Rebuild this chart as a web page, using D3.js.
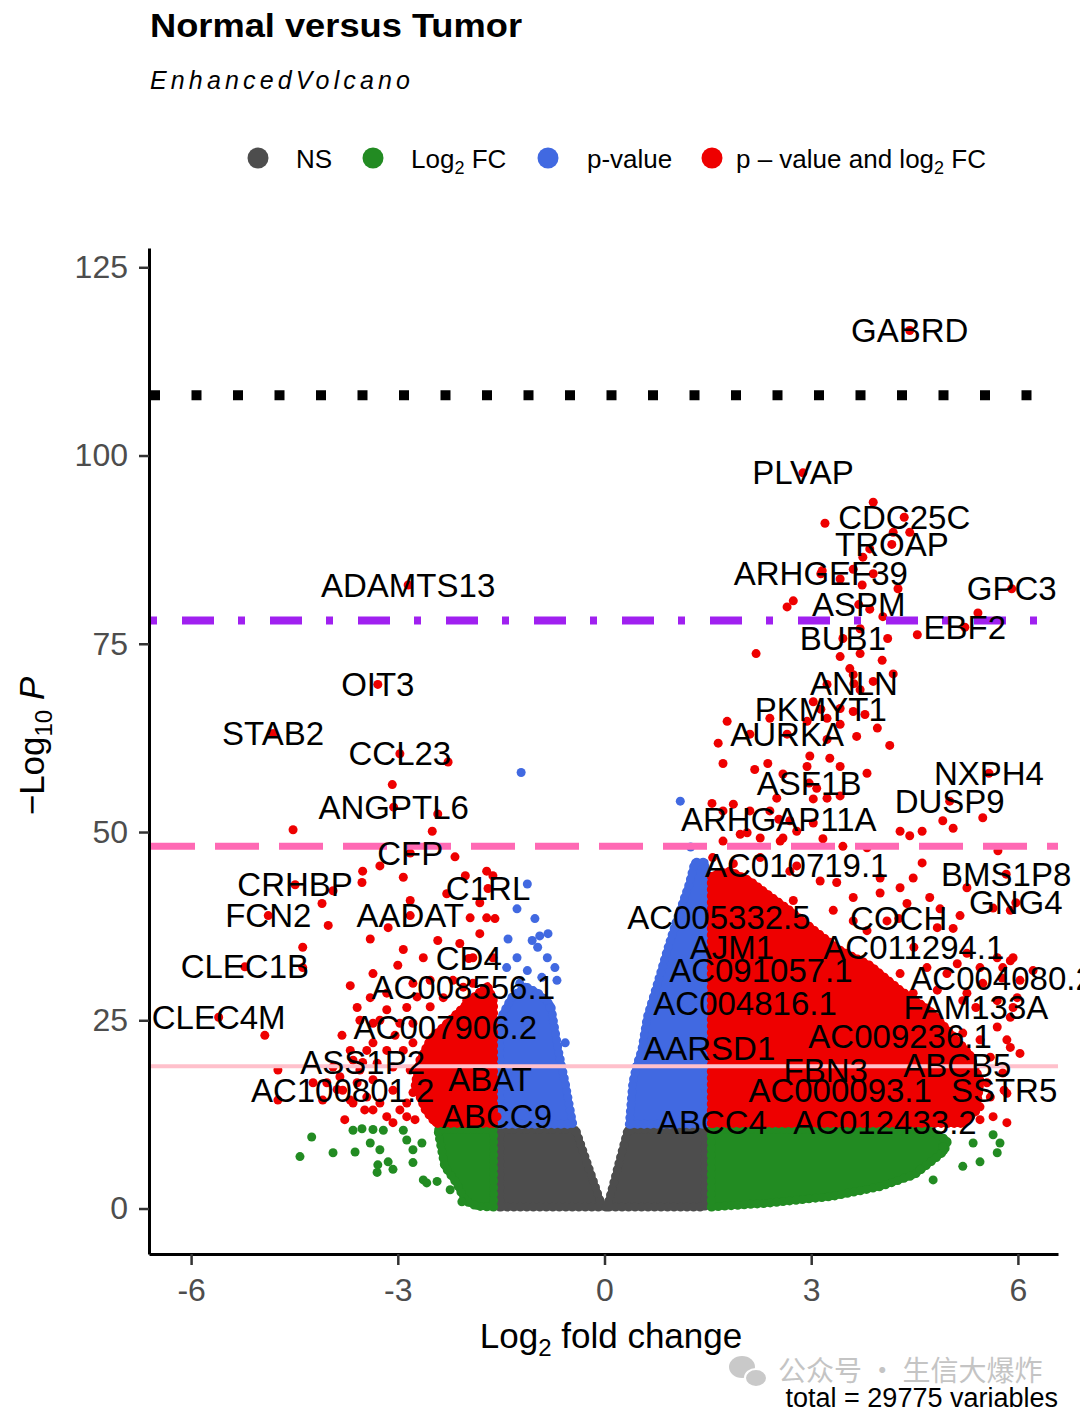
<!DOCTYPE html>
<html><head><meta charset="utf-8">
<script src="https://cdn.jsdelivr.net/npm/d3@7"></script>
<style>
body{margin:0;background:#fff}
svg{display:block;font-family:"Liberation Sans",Arial,sans-serif}
</style>
</head><body>
<svg id="chart" width="1080" height="1418"></svg>
<script>
// ---------------- DATA ----------------
const categories = ["NS", "Log2 FC", "p-value", "p - value and log2 FC"];
const xTicks = [-6, -3, 0, 3, 6];
const xTickLabels = ["-6", "-3", "0", "3", "6"];
const yTicks = [0, 25, 50, 75, 100, 125];
const cutoffLines = [108.0, 78.1, 48.1, 18.9];
const totalVariables = 29775;

// dense clouds of overlapping points (outline of the solid area, [log2FC, -log10P])
const nsLeftCloud  = [[-1.52,0.2],[-1.52,10.5],[-0.42,10.5],[-0.07,1.2],[-0.02,0.2]];
const nsRightCloud = [[0.02,0.2],[0.07,1.2],[0.34,10.5],[1.46,10.5],[1.46,0.2]];
const fcLeftCloud  = [[-1.61,0.2],[-1.61,10.5],[-2.42,10.5],[-2.32,5.6],[-2.15,3.4],[-2.02,1.0],[-1.85,0.3]];
const fcRightCloud = [[1.55,0.2],[1.55,10.5],[4.70,10.5],[4.98,9.0],[4.93,7.6],[4.50,4.5],[4.00,2.9],[3.30,1.6],[2.36,0.7]];
const pLeftCloud   = [[-1.52,11.2],[-1.52,25.0],[-1.35,28.0],[-1.15,29.5],[-0.95,28.5],[-0.78,27.0],[-0.75,25.4],[-0.67,21.0],[-0.57,16.7],[-0.46,11.2]];
const pRightCloud  = [[0.36,11.2],[0.41,16.7],[0.46,18.8],[0.54,21.0],[0.62,25.4],[0.77,29.9],[0.91,34.3],[1.06,38.6],[1.23,43.1],[1.31,46.0],[1.46,46.0],[1.46,11.2]];
const bothLeftCloud  = [[-1.61,11.3],[-1.61,27.6],[-1.70,29.6],[-1.95,27.6],[-2.24,25.0],[-2.53,22.4],[-2.68,19.7],[-2.75,16.4],[-2.60,13.1],[-2.45,11.3]];
const bothRightCloud = [[1.55,11.3],[1.55,44.2],[1.82,44.8],[2.11,43.5],[2.40,41.5],[2.69,39.6],[3.05,36.9],[3.42,34.3],[3.85,32.3],[4.29,29.0],[4.72,26.3],[5.00,23.5],[5.30,20.5],[5.45,17.0],[5.40,13.0],[5.20,11.3]];

// individual scattered points
const fcPoints = [[5.64,9.8],[5.74,8.7],[5.45,6.2],[5.20,5.6],[4.77,3.8],[4.58,5.2],[5.70,7.4],[5.35,8.7],[4.91,8.2],
  [-4.25,9.5],[-4.42,6.9],[-3.94,7.4],[-3.62,7.5],[-3.65,10.4],[-3.52,10.6],[-3.36,10.5],[-3.21,10.4],[-3.40,8.7],[-3.26,7.8],
  [-3.29,5.8],[-3.14,6.2],[-3.30,4.8],[-3.07,5.2],[-2.92,10.4],[-2.87,9.1],[-2.78,7.8],[-2.65,8.7],[-2.63,3.8],[-2.58,3.4],
  [-2.43,3.6],[-2.24,2.5],[-2.07,0.9],[-2.78,6.1]];
const pPoints = [[-1.12,43.1],[-1.27,39.8],[-1.01,38.5],[-1.40,35.8],[-1.05,35.6],[-0.94,36.2],[-0.82,36.5],[-0.97,34.7],
  [-0.72,32.0],[-0.83,33.3],[-1.27,33.3],[-1.42,32.0],[-1.12,31.6],[-0.91,30.7],[-0.69,30.3],[-1.23,29.9],[-0.98,28.6],
  [-0.79,26.7],[-0.57,22.0],[-1.21,57.9],[1.10,54.1],[1.25,48.0]];
const bothPoints = [
  [-3.51,44.8],[-3.52,43.3],[-3.26,45.5],[-2.92,44.0],[-2.17,46.7],[-2.02,44.2],[-1.71,44.8],[-1.62,44.2],[-3.94,42.2],[-4.10,40.5],
  [-4.01,37.6],[-4.38,34.7],[-4.38,32.0],[-4.93,23.0],[-4.74,18.4],[-4.74,14.4],[-3.69,29.6],[-3.40,35.8],[-3.36,31.2],[-3.14,37.3],
  [-2.92,34.4],[-2.82,40.9],[-3.00,32.3],[-2.63,33.3],[-2.42,35.6],[-2.29,41.8],[-2.10,35.2],[-1.95,38.6],[-1.81,36.5],[-1.81,40.6],
  [-1.71,38.6],[-1.59,38.5],[-1.91,33.3],[-1.62,33.3],[-3.81,23.0],[-3.59,26.7],[-3.40,28.0],[-3.16,28.6],[-2.87,26.7],[-2.97,24.6],
  [-3.16,21.0],[-3.36,22.0],[-3.55,25.0],[-2.78,29.9],[-2.53,30.3],[-2.34,28.0],[-2.20,30.3],[-2.00,27.6],[-1.91,29.9],[-4.03,16.7],
  [-3.84,17.5],[-3.59,16.7],[-3.36,17.1],[-3.07,15.7],[-3.16,12.2],[-3.07,11.4],[-2.87,14.0],[-3.94,18.8],[-3.65,19.7],[-3.30,19.3],
  [-4.23,16.7],[-2.27,59.3],[-3.08,56.3],[-2.42,52.4],[-2.50,50.1],[-4.52,50.3],
  [-2.72,28.1],[-2.53,26.8],[-2.78,24.6],[-3.36,24.6],[-3.16,26.4],[-3.45,21.0],[-3.69,21.0],[-2.92,21.0],[-2.78,22.0],[-3.88,15.8],
  [-3.65,14.0],[-3.45,14.8],[-3.36,13.1],[-3.26,14.0],[-2.97,13.1],[-2.87,12.2],[-2.78,15.4],[-2.68,16.7],[-2.63,19.3],[-3.07,18.8],
  [-3.55,18.4],[-3.69,14.4],[-3.48,13.1],[-3.77,11.8],[-2.82,18.4],[-3.04,23.0],[-3.26,25.0],[-2.75,11.8],[-4.09,14.4],
  [3.90,93.8],[3.20,91.0],[4.19,89.8],[4.43,89.8],[3.85,87.6],[3.75,86.5],[3.61,84.9],[3.16,84.7],[3.42,83.6],[3.90,84.3],
  [3.74,82.8],[4.26,82.3],[2.74,80.7],[2.65,79.9],[4.04,78.6],[3.85,79.6],[5.42,79.1],[4.54,76.2],[4.11,75.7],[3.71,77.0],
  [2.20,73.7],[3.42,73.3],[3.71,73.7],[4.03,72.8],[3.56,71.7],[3.61,70.9],[4.19,71.0],[3.90,70.0],[3.23,69.6],[3.71,68.9],
  [3.03,67.3],[3.42,66.4],[3.61,66.0],[3.78,65.6],[3.42,64.3],[3.23,65.1],[2.94,64.7],[1.78,64.7],[2.40,65.1],[3.96,63.8],
  [3.66,62.7],[1.65,61.8],[2.11,63.0],[4.14,61.5],[3.23,62.3],[2.98,60.1],[3.27,59.8],[1.72,59.1],[2.37,59.1],[2.94,58.7],
  [3.42,58.7],[2.18,58.3],[3.81,57.8],[2.59,57.7],[3.08,55.8],[2.50,54.5],[3.03,54.4],[3.23,54.5],[3.42,54.8],[1.56,53.8],
  [1.87,53.7],[1.72,52.8],[2.11,52.8],[2.40,52.8],[2.69,51.5],[3.03,51.2],[4.91,51.5],[5.06,50.5],[5.49,51.9],[4.29,50.1],
  [4.43,49.5],[4.61,50.1],[1.97,49.7],[2.26,49.2],[2.59,49.2],[2.79,50.1],[3.17,49.1],[3.46,48.1],[1.72,48.8],[5.71,47.5],
  [2.07,49.9],[2.55,48.8],[3.81,47.9],[1.57,46.6],[1.87,45.8],[2.26,46.6],[2.69,44.8],[3.13,43.5],[3.37,43.3],[4.00,43.9],
  [4.48,43.9],[4.00,41.9],[4.29,42.6],[3.61,41.3],[2.74,40.9],[3.32,39.6],[3.61,38.2],[3.81,36.9],[4.39,40.5],[4.10,38.2],
  [4.61,45.9],[4.72,41.3],[4.87,39.8],[5.16,38.9],[5.06,37.2],[5.64,39.9],[5.26,33.9],[5.70,33.3],[5.93,33.3],[5.78,32.0],
  [5.45,32.0],[5.49,29.9],[5.12,32.5],[4.97,31.2],[4.68,32.0],[4.29,31.2],[4.14,29.4],[4.48,28.6],[4.83,29.0],[5.93,26.7],
  [6.03,30.3],[5.70,27.6],[5.20,27.6],[5.70,24.1],[5.45,22.4],[5.84,22.4],[6.03,20.6],[5.20,23.3],[5.60,20.1],[5.78,18.0],
  [5.41,17.1],[5.60,14.8],[5.84,15.3],[5.45,13.5],[5.64,12.2],[5.84,11.4],[5.20,12.7],
  [5.26,42.6],[4.83,37.3],[5.89,39.6],[5.89,32.9],[6.22,31.6],[5.26,28.6],[5.89,25.4],[5.99,28.0],[5.89,21.4],[5.55,16.7],
  [5.26,14.0],[5.01,16.7],[5.06,21.0],[5.45,11.8]];

// labelled genes (all in the "p-value and log2 FC" group)
const geneNames = ["ADAMTS13","OIT3","STAB2","CCL23","ANGPTL6","CFP","CRHBP","FCN2","AADAT","C1RL","CLEC1B","CD4",
  "AC008556.1","CLEC4M","AC007906.2","ASS1P2","ABAT","AC100801.2","ABCC9",
  "GABRD","PLVAP","CDC25C","TROAP","ARHGEF39","GPC3","ASPM","EBF2","BUB1","ANLN","PKMYT1","AURKA","NXPH4","ASF1B",
  "DUSP9","ARHGAP11A","AC010719.1","BMS1P8","GNG4","AC005332.5","COCH","AJM1","AC011294.1","AC091057.1","AC004080.2",
  "AC004816.1","FAM133A","AC009236.1","AARSD1","FBN3","ABCB5","AC000093.1","SSTR5","ABCC4","AC012433.2"];
const geneLog2FC = [-2.85,-3.29,-4.81,-2.97,-3.06,-2.82,-4.49,-4.88,-2.82,-1.69,-5.22,-1.97,
  -2.05,-5.60,-2.31,-3.51,-1.66,-3.80,-1.56,
  4.43,2.88,4.35,4.17,3.14,5.91,3.69,5.23,3.46,3.62,3.14,2.65,5.58,2.97,
  5.01,2.53,2.79,5.83,5.97,1.66,4.27,1.85,4.49,2.27,5.77,
  2.04,5.39,4.29,1.52,3.21,5.12,3.42,5.80,1.56,4.07];
const geneNegLog10P = [82.8,69.6,63.1,60.4,53.3,47.2,43.0,38.9,38.9,42.5,32.1,33.2,
  29.4,25.4,24.1,19.4,17.1,15.7,12.2,
  116.6,97.7,91.8,88.2,84.3,82.3,80.2,77.2,75.7,69.7,66.3,63.0,57.8,56.5,
  54.1,51.7,45.5,44.4,40.6,38.6,38.5,34.7,34.7,31.6,30.6,
  27.2,26.7,22.8,21.3,18.4,19.0,15.7,15.7,11.4,11.4];

// ---------------- STYLE ----------------
const colNS = "#4d4d4d", colFC = "#228b22", colP = "#4169e1", colBoth = "#ee0000";
const catColors = [colNS, colFC, colP, colBoth];
const R = 4.5;

const svg = d3.select("#chart");
const x = d3.scaleLinear().domain([-6.611, 6.582]).range([149, 1058]);
const y = d3.scaleLinear().domain([-6.04, 127.56]).range([1254, 248]);

// title & subtitle
svg.append("text").attr("x",150).attr("y",37).attr("font-size",34).attr("font-weight","bold")
  .attr("textLength",372).attr("lengthAdjust","spacingAndGlyphs").text("Normal versus Tumor");
svg.append("text").attr("x",150).attr("y",89).attr("font-size",25).attr("font-style","italic")
  .attr("textLength",260).attr("lengthAdjust","spacing").text("EnhancedVolcano");

// legend
const legendX = [258, 373, 548, 712];
const legendTextX = [296, 411, 587, 736];
const legendParts = [
  [{t:"NS"}],
  [{t:"Log"},{t:"2",sub:true},{t:" FC"}],
  [{t:"p-value"}],
  [{t:"p \u2013 value and log"},{t:"2",sub:true},{t:" FC"}]
];
const lg = svg.append("g");
categories.forEach((c,i)=>{
  lg.append("circle").attr("cx",legendX[i]).attr("cy",158).attr("r",10.5).attr("fill",catColors[i]);
  const t = lg.append("text").attr("x",legendTextX[i]).attr("y",168).attr("font-size",26).attr("fill","#000");
  let shifted=false;
  legendParts[i].forEach(p=>{
    const ts = t.append("tspan").text(p.t);
    if(p.sub){ts.attr("font-size",18).attr("dy",6); shifted=true;}
    else if(shifted){ts.attr("dy",-6); shifted=false;}
  });
});

// clouds: filled area plus a beaded rim so the edge reads as overlapping dots
const line = d3.line().x(d=>x(d[0])).y(d=>y(d[1])).curve(d3.curveLinearClosed);
const clouds = [
  [nsLeftCloud,colNS],[nsRightCloud,colNS],
  [fcLeftCloud,colFC],[fcRightCloud,colFC],
  [pLeftCloud,colP],[pRightCloud,colP],
  [bothLeftCloud,colBoth],[bothRightCloud,colBoth]
];
const gPts = svg.append("g");
clouds.forEach(([pts,col])=>{
  gPts.append("path").attr("d",line(pts)).attr("fill",col).attr("stroke",col)
    .attr("stroke-width",2*R-2).attr("stroke-linejoin","round");
  gPts.append("path").attr("d",line(pts)).attr("fill","none").attr("stroke",col)
    .attr("stroke-width",2*R).attr("stroke-linecap","round").attr("stroke-dasharray","0,6.5");
});
function drawPoints(arr,col){
  gPts.selectAll(null).data(arr).enter().append("circle")
    .attr("cx",d=>x(d[0])).attr("cy",d=>y(d[1])).attr("r",R).attr("fill",col);
}
drawPoints(fcPoints,colFC);
drawPoints(pPoints,colP);
drawPoints(bothPoints,colBoth);
const genes = geneNames.map((n,i)=>({name:n, fc:geneLog2FC[i], p:geneNegLog10P[i]}));
gPts.selectAll(null).data(genes).enter().append("circle")
  .attr("cx",d=>x(d.fc)).attr("cy",d=>y(d.p)).attr("r",R).attr("fill",colBoth);

// cutoff lines
const lineStyles = [
  {stroke:"#000000", w:10, dash:"10,31.5", off:-1},
  {stroke:"#a020f0", w:8, dash:"7,25,32,24", off:-1},
  {stroke:"#ff69b4", w:7, dash:"44,20", off:-2},
  {stroke:"#ffc0cb", w:4, dash:null, off:0}
];
cutoffLines.forEach((v,i)=>{
  const s=lineStyles[i];
  const l = svg.append("line").attr("x1",x.range()[0]).attr("x2",x.range()[1])
    .attr("y1",y(v)).attr("y2",y(v)).attr("stroke",s.stroke).attr("stroke-width",s.w);
  if(s.dash) l.attr("stroke-dasharray",s.dash).attr("stroke-dashoffset",s.off);
});

// gene labels
svg.append("g").selectAll("text").data(genes).enter().append("text")
  .attr("x",d=>x(d.fc)).attr("y",d=>y(d.p)).attr("dy","0.35em")
  .attr("text-anchor","middle").attr("font-size",33).attr("fill","#000").text(d=>d.name);

// axes
const yAxis = svg.append("g").attr("transform","translate(149,0)")
  .call(d3.axisLeft(y).tickValues(yTicks).tickSize(10).tickSizeOuter(0).tickPadding(11));
const xAxis = svg.append("g").attr("transform","translate(0,1254)")
  .call(d3.axisBottom(x).tickValues(xTicks).tickFormat((d,i)=>xTickLabels[i]).tickSize(11).tickSizeOuter(0).tickPadding(13));
[yAxis,xAxis].forEach(a=>{
  a.select(".domain").attr("stroke","#000").attr("stroke-width",3);
  a.selectAll(".tick line").attr("stroke","#333").attr("stroke-width",2.5);
  a.selectAll(".tick text").attr("font-size",32).attr("fill","#4d4d4d")
    .attr("font-family","Liberation Sans, Arial, sans-serif");
});

// axis titles
const xt = svg.append("text").attr("x",611).attr("y",1348).attr("text-anchor","middle").attr("font-size",35);
xt.append("tspan").text("Log");
xt.append("tspan").attr("font-size",24).attr("dy",8).text("2");
xt.append("tspan").attr("dy",-8).text(" fold change");
const yt = svg.append("text").attr("transform","translate(44,746) rotate(-90)").attr("text-anchor","middle").attr("font-size",35);
yt.append("tspan").text("\u2212Log");
yt.append("tspan").attr("font-size",24).attr("dy",8).text("10");
yt.append("tspan").attr("dy",-8).text(" ");
yt.append("tspan").attr("font-style","italic").text("P");

// watermark
const wm = svg.append("g");
wm.append("ellipse").attr("cx",742).attr("cy",1367).attr("rx",13).attr("ry",11).attr("fill","#c9c9c9");
wm.append("ellipse").attr("cx",756).attr("cy",1378).attr("rx",11).attr("ry",9).attr("fill","#c9c9c9").attr("stroke","#fff").attr("stroke-width",2);
wm.append("text").attr("x",778).attr("y",1381).attr("font-size",28).attr("fill","#c4c4c4")
  .attr("font-family","Noto Sans CJK SC, sans-serif").text("公众号 · 生信大爆炸");

// caption
svg.append("text").attr("x",1058).attr("y",1407).attr("text-anchor","end").attr("font-size",27)
  .text("total = " + totalVariables + " variables");
</script>
</body></html>
